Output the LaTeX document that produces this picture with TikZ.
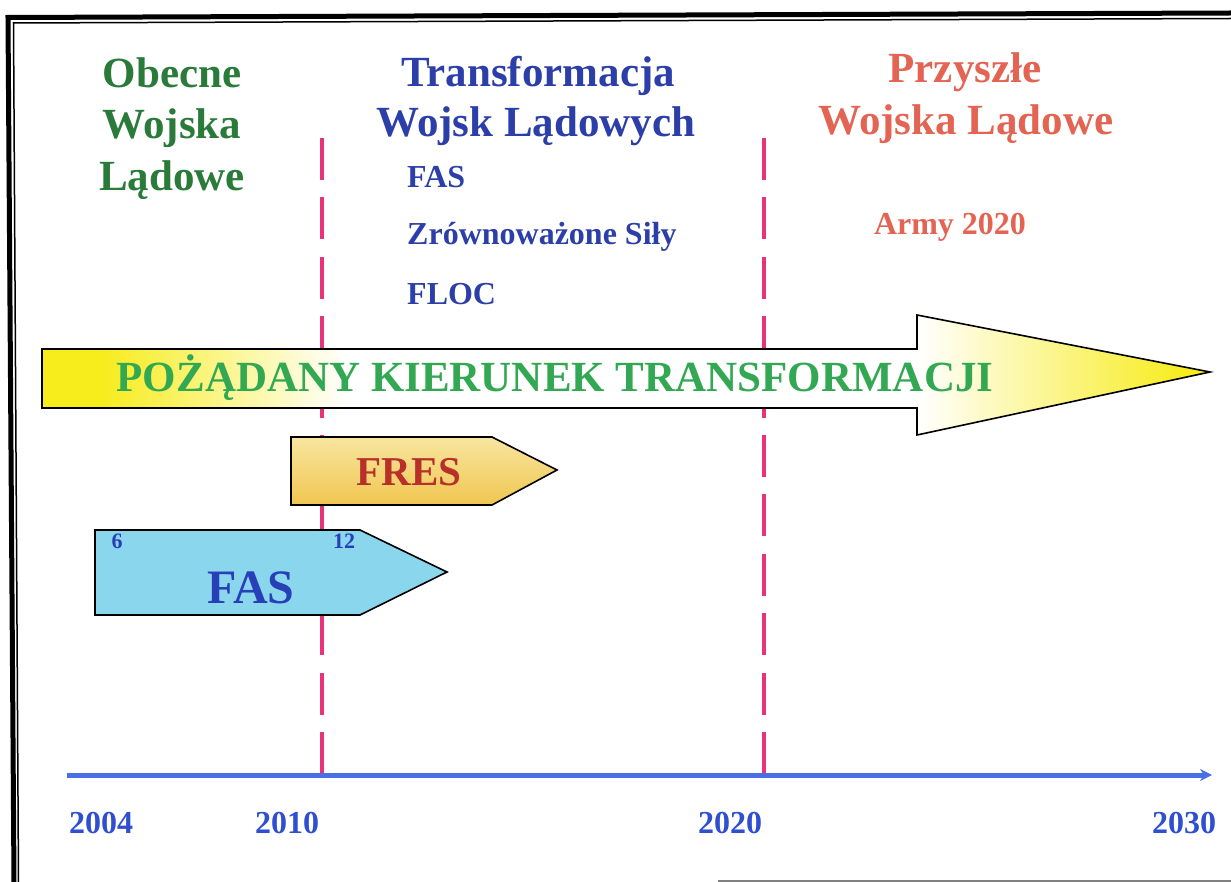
\documentclass[tikz,border=0pt]{standalone}
\usepackage{fontspec}
\setmainfont{Liberation Serif}
\usetikzlibrary{arrows.meta}
\definecolor{hgreen}{HTML}{2A7A3A}
\definecolor{hblue}{HTML}{2C3FA8}
\definecolor{hred}{HTML}{E36452}
\definecolor{tgreen}{HTML}{33A852}
\definecolor{dpink}{HTML}{E8327A}
\definecolor{axblue}{HTML}{4A6EE8}
\definecolor{yrblue}{HTML}{2F4FD0}
\definecolor{fresred}{HTML}{B8302A}
\definecolor{fasblue}{HTML}{2740B8}
\definecolor{fasfill}{HTML}{8AD6EC}
\definecolor{ylw}{HTML}{F7EC1C}
\definecolor{fresTop}{HTML}{F8E6A0}
\definecolor{fresBot}{HTML}{F0C650}
\pgfdeclarehorizontalshading{bigarrowshade}{100bp}{color(0bp)=(ylw); color(27.5bp)=(ylw); color(38bp)=(white); color(62.5bp)=(white); color(74bp)=(ylw); color(100bp)=(ylw)}
\begin{document}
\begin{tikzpicture}[x=1pt,y=-1pt,
  heading/.style={font=\fontsize{43}{50}\selectfont\bfseries, anchor=base, inner sep=0pt},
  subitem/.style={font=\fontsize{32}{38}\selectfont\bfseries, anchor=base west, inner sep=0pt, text=hblue},
  yearlbl/.style={font=\fontsize{32}{38}\selectfont\bfseries, anchor=base, inner sep=0pt, text=yrblue},
  pinkdash/.style={draw=dpink, line width=4pt, dash pattern=on 42pt off 17.4pt},
  arrowedge/.style={draw=black, line width=1.6pt, line join=miter},
  axisline/.style={draw=axblue, line width=5pt, -{Stealth[length=12pt,width=12pt]}}
]
\useasboundingbox (0,0) rectangle (1231,882);
\fill[white] (0,0) rectangle (1231,882);
% frame
\draw[line width=5pt] (1231,13) -- (8,17.5) -- (14,882);
\draw[line width=1.5pt] (1231,18.5) -- (13.5,23) -- (18.5,882);
\draw[line width=2pt, gray] (718,880.5) -- (1231,880.5);
% headings
\node[heading, text=hgreen] (ob1) at (172,88) {Obecne};
\node[heading, text=hgreen] (ob2) at (172,139) {Wojska};
\node[heading, text=hgreen] (ob3) at (172,191) {Lądowe};
\node[heading, text=hblue] (tr1) at (538,87) {Transformacja};
\node[heading, text=hblue] (tr2) at (536,137) {Wojsk Lądowych};
\node[heading, text=hred] (pr1) at (965,83) {Przyszłe};
\node[heading, text=hred] (pr2) at (966,135) {Wojska Lądowe};
\node[subitem] (s1) at (407,188) {FAS};
\node[subitem] (s2) at (407,245) {Zrównoważone Siły};
\node[subitem] (s3) at (407,305) {FLOC};
\node[font=\fontsize{32}{38}\selectfont\bfseries, anchor=base, inner sep=0pt, text=hred] (army) at (950,235) {Army 2020};
% dashed lines
\coordinate (d1t) at (322,138); \coordinate (d1b) at (322,775);
\coordinate (d2t) at (764,138); \coordinate (d2b) at (764,775);
\draw[pinkdash] (d1t) -- (d1b);
\draw[pinkdash] (d2t) -- (d2b);
% big arrow
\path[arrowedge, shading=bigarrowshade] (42,349) -- (917,349) -- (917,315) -- (1210,372) -- (917,435) -- (917,408) -- (42,408) -- cycle;
\node[font=\fontsize{43}{50}\selectfont\bfseries, anchor=base, inner sep=0pt, text=tgreen] (big) at (555,391) {POŻĄDANY KIERUNEK TRANSFORMACJI};
% FRES arrow
\path[arrowedge, top color=fresTop, bottom color=fresBot] (291,437) -- (492,437) -- (557,470) -- (492,505) -- (291,505) -- cycle;
\node[font=\fontsize{41}{48}\selectfont\bfseries, anchor=base, inner sep=0pt, text=fresred] (fres) at (409,485) {FRES};
% FAS arrow
\path[arrowedge, fill=fasfill] (95,530) -- (360,530) -- (447,572) -- (360,615) -- (95,615) -- cycle;
\node[font=\fontsize{48}{56}\selectfont\bfseries, anchor=base, inner sep=0pt, text=fasblue] (fas) at (251,603) {FAS};
\node[font=\fontsize{22}{26}\selectfont\bfseries, anchor=base, inner sep=0pt, text=fasblue] (six) at (117,548) {6};
\node[font=\fontsize{22}{26}\selectfont\bfseries, anchor=base, inner sep=0pt, text=fasblue] (twelve) at (344,548) {12};
% axis
\coordinate (axs) at (67,775); \coordinate (axe) at (1212,775);
\draw[axisline] (axs) -- (axe);
\node[yearlbl] (y1) at (101,833) {2004};
\node[yearlbl] (y2) at (287,833) {2010};
\node[yearlbl] (y3) at (730,833) {2020};
\node[yearlbl] (y4) at (1184,833) {2030};
\end{tikzpicture}
\end{document}
